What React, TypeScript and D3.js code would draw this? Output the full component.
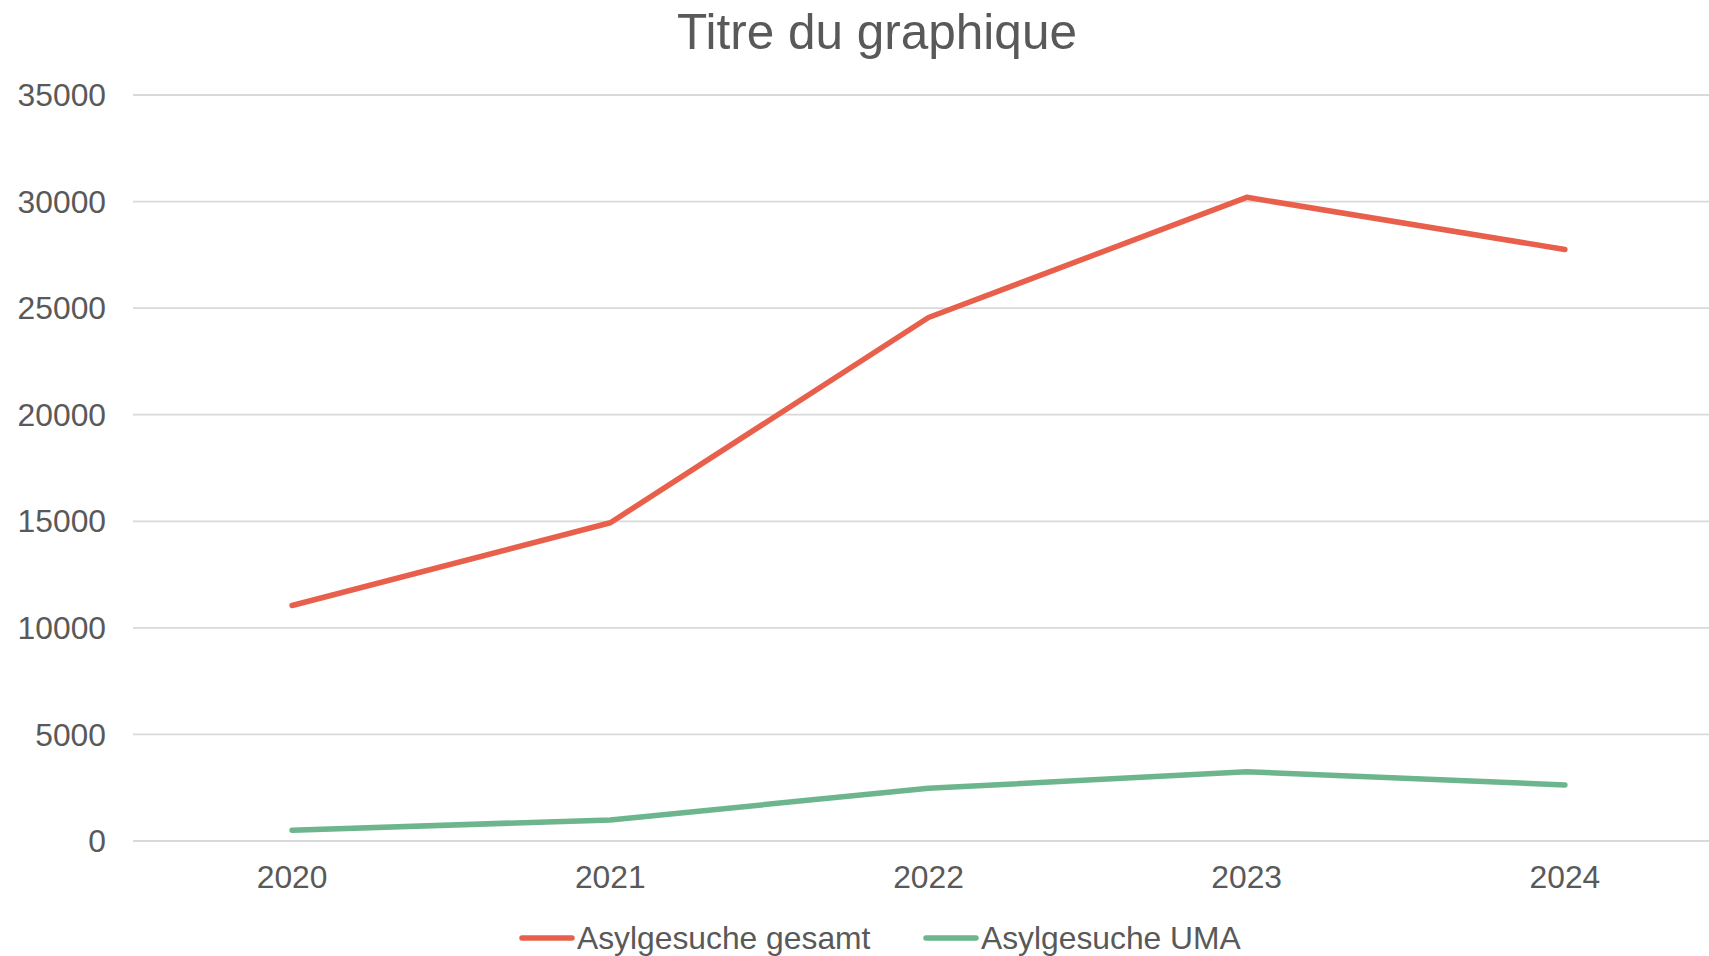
import React, { useEffect, useRef } from 'react';
import * as d3 from 'd3';

const years = ['2020', '2021', '2022', '2023', '2024'];
const gesamt = [11050, 14930, 24560, 30200, 27750];
const uma = [510, 990, 2470, 3250, 2630];
const yTicks = [0, 5000, 10000, 15000, 20000, 25000, 30000, 35000];
const seriesNames = ['Asylgesuche gesamt', 'Asylgesuche UMA'];
const seriesColors = ['#e8604c', '#6db58c'];

const App: React.FC = () => {
  const svgRef = useRef<SVGSVGElement>(null);

  useEffect(() => {
    if (!svgRef.current) return;
    const width = 1709;
    const height = 956;
    const font = '"Liberation Sans", Arial, sans-serif';
    const textColor = '#595959';

    d3.select(svgRef.current).selectAll('*').remove();
    const svg = d3.select(svgRef.current)
      .attr('width', width)
      .attr('height', height)
      .attr('font-family', font);

    // plot area runs past the right edge, like the original
    const x = d3.scalePoint<string>().domain(years).range([133, 1724]).padding(0.5);
    const y = d3.scaleLinear().domain([0, 35000]).range([841, 95]);

    // Title
    svg.append('text')
      .attr('x', 877)
      .attr('y', 49)
      .attr('text-anchor', 'middle')
      .attr('font-size', '49.5px')
      .attr('fill', textColor)
      .text('Titre du graphique');

    // Gridlines
    svg.append('g')
      .selectAll('line')
      .data(yTicks)
      .join('line')
      .attr('x1', 133)
      .attr('x2', width)
      .attr('y1', (d) => y(d))
      .attr('y2', (d) => y(d))
      .attr('stroke', '#d9d9d9')
      .attr('stroke-width', 1.8);

    // Y labels
    svg.append('g')
      .selectAll('text')
      .data(yTicks)
      .join('text')
      .attr('x', 106)
      .attr('y', (d) => y(d))
      .attr('dy', '0.35em')
      .attr('text-anchor', 'end')
      .attr('font-size', '31.8px')
      .attr('fill', textColor)
      .text((d) => String(d));

    // X labels
    svg.append('g')
      .selectAll('text')
      .data(years)
      .join('text')
      .attr('x', (d) => x(d)!)
      .attr('y', 888)
      .attr('text-anchor', 'middle')
      .attr('font-size', '31.8px')
      .attr('fill', textColor)
      .text((d) => d);

    // Lines
    const line = d3.line<number>()
      .x((_, i) => x(years[i])!)
      .y((d) => y(d));

    [gesamt, uma].forEach((values, i) => {
      svg.append('path')
        .datum(values)
        .attr('d', line)
        .attr('fill', 'none')
        .attr('stroke', seriesColors[i])
        .attr('stroke-width', 5.5)
        .attr('stroke-linecap', 'round')
        .attr('stroke-linejoin', 'round');
    });

    // Legend
    const legendX = [520, 924];
    const legend = svg.append('g');
    seriesNames.forEach((name, i) => {
      legend.append('line')
        .attr('x1', legendX[i] + 2)
        .attr('x2', legendX[i] + 52)
        .attr('y1', 938)
        .attr('y2', 938)
        .attr('stroke', seriesColors[i])
        .attr('stroke-width', 5.5)
        .attr('stroke-linecap', 'round');
      legend.append('text')
        .attr('x', legendX[i] + 57)
        .attr('y', 938)
        .attr('dy', '0.35em')
        .attr('font-size', '31.8px')
        .attr('fill', textColor)
        .text(name);
    });
  }, []);

  return (
    <svg ref={svgRef} style={{ position: 'absolute', left: 0, top: 0, background: '#fff' }} />
  );
};

export default App;
